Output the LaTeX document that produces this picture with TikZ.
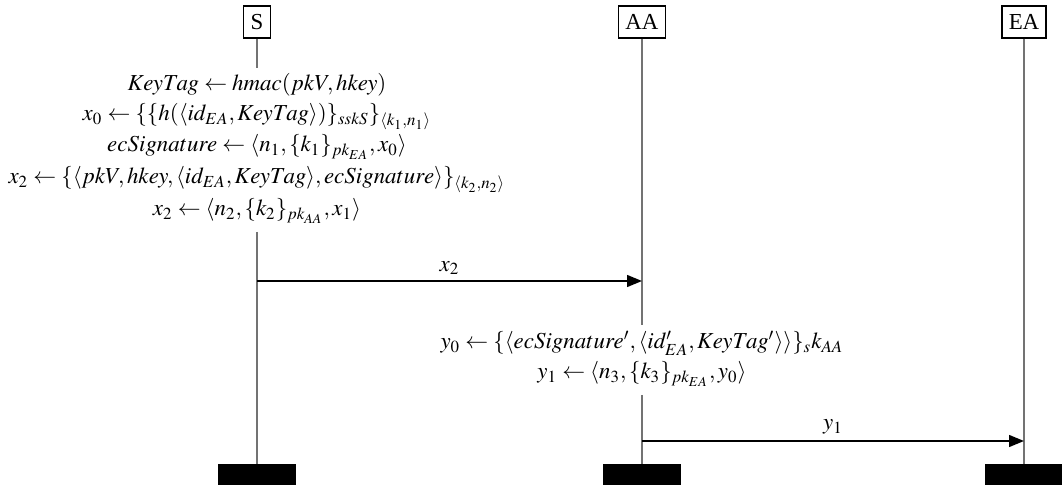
\documentclass[tikz,border=0pt]{standalone}
\usepackage{mathptmx}
\usepackage{fontspec}
\setmainfont{Liberation Serif}
\usetikzlibrary{arrows.meta}
\tikzset{
  actor/.style={draw, line width=0.6pt, inner sep=3pt, text height=1.6ex, text depth=0.15ex, fill=white},
  life/.style={draw=black!55, line width=0.6pt},
  msg/.style={draw=black, line width=0.6pt, -{Triangle[length=6.5pt,width=5.2pt]}},
  endbar/.style={fill=black, draw=none},
  calc/.style={anchor=base, inner sep=0pt},
  lbl/.style={inner sep=0pt}
}
\begin{document}
\begin{tikzpicture}[x=0.437pt,y=-0.437pt]
\useasboundingbox (0,0) rectangle (1062,485);
% actors
\node[actor] (S)  at (257,22) {S};
\node[actor] (AA) at (642,22) {AA};
\node[actor] (EA) at (1024,22) {EA};
% lifeline coordinates
\coordinate (s1) at (257,68);
\coordinate (s2) at (257,232);
\coordinate (s3) at (257,464);
\coordinate (a1) at (642,325);
\coordinate (a2) at (642,395);
\coordinate (a3) at (642,464);
\coordinate (e3) at (1024,464);
\coordinate (sx) at (257,281);
\coordinate (ax) at (642,281);
\coordinate (ay) at (642,441);
\coordinate (ey) at (1024,441);
% lifelines
\draw[life] (S) -- (s1);
\draw[life] (s2) -- (s3);
\draw[life] (AA) -- (a1);
\draw[life] (a2) -- (a3);
\draw[life] (EA) -- (e3);
% computations at S
\node[calc] (c1) at (257,91)  {$KeyTag \leftarrow hmac(pkV,hkey)$};
\node[calc] (c2) at (257,121) {$x_0 \leftarrow \{\{h(\langle id_{EA},KeyTag\rangle)\}_{sskS}\}_{\langle k_1,n_1\rangle}$};
\node[calc] (c3) at (257,152) {$ecSignature \leftarrow \langle n_1,\{k_1\}_{pk_{EA}},x_0\rangle$};
\node[calc] (c4) at (257,184) {$x_2 \leftarrow \{\langle pkV,hkey,\langle id_{EA},KeyTag\rangle,ecSignature\rangle\}_{\langle k_2,n_2\rangle}$};
\node[calc] (c5) at (257,216) {$x_2 \leftarrow \langle n_2,\{k_2\}_{pk_{AA}},x_1\rangle$};
% computations at AA
\node[calc] (d1) at (642,349) {$y_0 \leftarrow \{\langle ecSignature',\langle id'_{EA},KeyTag'\rangle\rangle\}_s k_{AA}$};
\node[calc] (d2) at (642,379) {$y_1 \leftarrow \langle n_3,\{k_3\}_{pk_{EA}},y_0\rangle$};
% messages
\draw[msg] (sx) -- node[lbl, above=2.5pt] (m1) {$x_2$} (ax);
\draw[msg] (ay) -- node[lbl, above=2.5pt] (m2) {$y_1$} (ey);
% end bars
\fill[endbar] (218,464) rectangle (296,485);
\fill[endbar] (603,464) rectangle (681,485);
\fill[endbar] (985,464) rectangle (1062,485);
\end{tikzpicture}
\end{document}
